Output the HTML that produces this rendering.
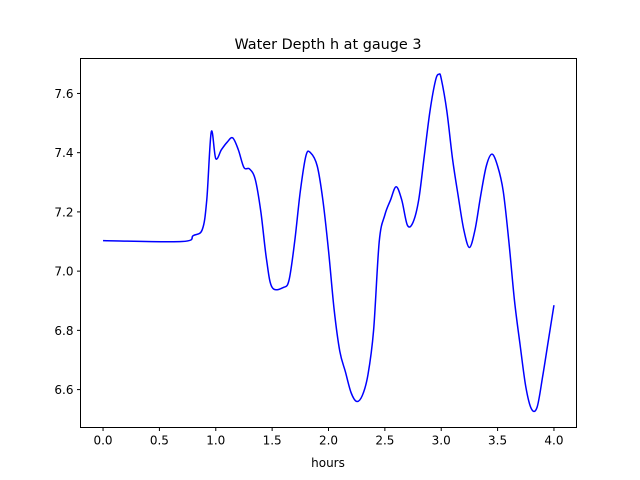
<!DOCTYPE html>
<html><head><meta charset="utf-8"><style>
body{margin:0;background:#fff}
svg{display:block;font-family:"DejaVu Sans","Liberation Sans",sans-serif}
</style></head><body>
<svg id="chart" width="640" height="480" viewBox="0 0 640 480">
<rect width="640" height="480" fill="#fff"/>
<text x="328" y="49" text-anchor="middle" font-size="14.4">Water Depth h at gauge 3</text>
<g id="plot"></g>
<rect x="80.5" y="58.5" width="496" height="369" fill="none" stroke="#000" stroke-width="1"/>
<text x="328" y="467" text-anchor="middle" font-size="12">hours</text>
</svg>
<script>
const hours=[0,0.7,0.8,0.88,0.92,0.96,1.0,1.05,1.1,1.15,1.2,1.25,1.3,1.35,1.4,1.45,1.5,1.6,1.65,1.7,1.75,1.8,1.84,1.9,1.95,2.0,2.05,2.1,2.15,2.2,2.25,2.3,2.35,2.4,2.45,2.5,2.55,2.6,2.65,2.7,2.75,2.8,2.85,2.9,2.95,2.98,3.0,3.05,3.1,3.15,3.2,3.25,3.3,3.35,3.4,3.45,3.5,3.55,3.6,3.65,3.7,3.75,3.8,3.85,3.9,3.95,4.0];
const depth=[7.103,7.10,7.12,7.14,7.24,7.47,7.38,7.41,7.435,7.45,7.41,7.35,7.345,7.31,7.2,7.04,6.945,6.945,6.97,7.1,7.27,7.39,7.4,7.355,7.24,7.07,6.87,6.73,6.66,6.59,6.56,6.58,6.65,6.8,7.1,7.19,7.24,7.285,7.24,7.155,7.165,7.24,7.39,7.54,7.645,7.665,7.65,7.54,7.38,7.255,7.14,7.08,7.14,7.255,7.355,7.395,7.355,7.27,7.1,6.9,6.75,6.61,6.535,6.54,6.645,6.765,6.885];
const xTicks=[0,0.5,1,1.5,2,2.5,3,3.5,4];
const yTicks=[6.6,6.8,7.0,7.2,7.4,7.6];
const xmin=-0.2,xmax=4.2,ymin=6.472,ymax=7.718;
const L=80.5,R=576.5,T=58.5,B=427.5;
const sx=v=>L+(v-xmin)/(xmax-xmin)*(R-L);
const sy=v=>B-(v-ymin)/(ymax-ymin)*(B-T);
const NS="http://www.w3.org/2000/svg";
const g=document.getElementById('plot');
function mk(t,a){const e=document.createElementNS(NS,t);for(const k in a)e.setAttribute(k,a[k]);g.appendChild(e);return e;}
xTicks.forEach(v=>{
 const l=mk('line',{x1:sx(v),x2:sx(v),y1:B,y2:B+3.5,stroke:'#000'});
 
 
 const t=mk('text',{x:sx(v),y:B+17,'text-anchor':'middle','font-size':'12'});
 t.textContent=v.toFixed(1);
 
 
});
yTicks.forEach(v=>{
 const l=mk('line',{x1:L-3.5,x2:L,y1:sy(v),y2:sy(v),stroke:'#000'});
 
 
 const t=mk('text',{x:L-7,y:sy(v)+4.5,'text-anchor':'end','font-size':'12'});
 t.textContent=v.toFixed(1);
 
 
});
const pts=hours.map((h,i)=>[sx(h),sy(depth[i])]);
let d='M'+pts[0][0]+','+pts[0][1];
for(let i=0;i<pts.length-1;i++){
 const p0=pts[Math.max(i-1,0)],p1=pts[i],p2=pts[i+1],p3=pts[Math.min(i+2,pts.length-1)];
 const c1=[p1[0]+(p2[0]-p0[0])/6,p1[1]+(p2[1]-p0[1])/6];
 const c2=[p2[0]-(p3[0]-p1[0])/6,p2[1]-(p3[1]-p1[1])/6];
 d+=' C'+c1+' '+c2+' '+p2;
}
const line=mk('path',{d:d,fill:'none',stroke:'#0000ff','stroke-width':'1.5'});


</script>
</body></html>
